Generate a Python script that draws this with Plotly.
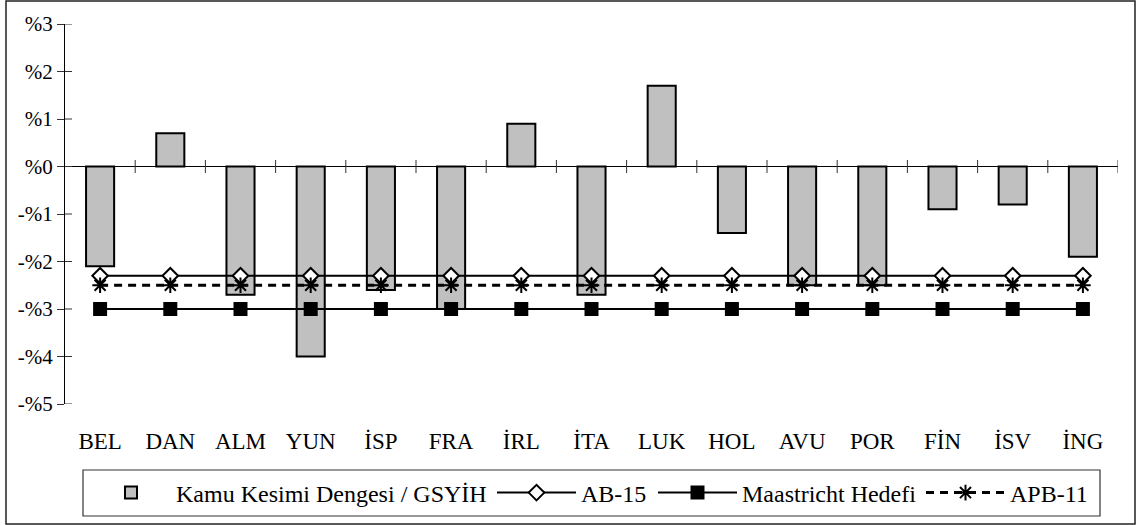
import plotly.graph_objects as go

# ---- data ----
categories = ["BEL", "DAN", "ALM", "YUN", "İSP", "FRA", "İRL", "İTA",
              "LUK", "HOL", "AVU", "POR", "FİN", "İSV", "İNG"]
kamu_dengesi = [-2.1, 0.7, -2.7, -4.0, -2.6, -3.0, 0.9, -2.7,
                1.7, -1.4, -2.5, -2.5, -0.9, -0.8, -1.9]
ab15 = [-2.3, -2.3, -2.3, -2.3, -2.3, -2.3, -2.3, -2.3,
        -2.3, -2.3, -2.3, -2.3, -2.3, -2.3, -2.3]
maastricht = [-3.0, -3.0, -3.0, -3.0, -3.0, -3.0, -3.0, -3.0,
              -3.0, -3.0, -3.0, -3.0, -3.0, -3.0, -3.0]
apb11 = [-2.5, -2.5, -2.5, -2.5, -2.5, -2.5, -2.5, -2.5,
         -2.5, -2.5, -2.5, -2.5, -2.5, -2.5, -2.5]
y_tickvals = [3, 2, 1, 0, -1, -2, -3, -4, -5]
y_ticktext = ["%3", "%2", "%1", "%0", "-%1", "-%2", "-%3", "-%4", "-%5"]

# ---- layout constants (pixels) ----
W, H = 1137, 525
ML, MR, MT, MB = 65, 19, 24, 121
PW = W - ML - MR
PH = H - MT - MB
FONT = "Liberation Serif, Times New Roman, serif"
FS_Y = 21
FS_X = 23
FS_LEG = 24


def px_x(px):
    return (px - ML) / PW


def px_y(py):
    return (H - MB - py) / PH


fig = go.Figure()
fig.add_trace(go.Bar(
    x=categories, y=kamu_dengesi, name="Kamu Kesimi Dengesi / GSYİH",
    width=0.4, marker=dict(color="#C0C0C0", line=dict(color="black", width=2)),
    legend="legend",
))
fig.add_trace(go.Scatter(
    x=categories, y=ab15, name="AB-15", mode="lines+markers",
    line=dict(color="black", width=2),
    marker=dict(symbol="diamond", size=12, color="white",
                line=dict(color="black", width=2)),
    legend="legend2",
))
fig.add_trace(go.Scatter(
    x=categories, y=maastricht, name="Maastricht Hedefi", mode="lines+markers",
    line=dict(color="black", width=2),
    marker=dict(symbol="square", size=14, color="black",
                line=dict(color="black", width=0)),
    legend="legend3",
))
fig.add_trace(go.Scatter(
    x=categories, y=apb11, name="APB-11", mode="lines+markers",
    line=dict(color="black", width=3, dash="8px,6px"),
    marker=dict(symbol="asterisk-open", size=13, color="black",
                line=dict(color="black", width=2)),
    legend="legend4",
))

shapes = []
n = len(categories)
tick_half = 6.5 / PH * 8
for i in range(n):
    b = i + 0.5
    shapes.append(dict(type="line", xref="x", yref="y", x0=b, x1=b,
                       y0=-tick_half, y1=tick_half,
                       line=dict(color="#333", width=1)))
for v in y_tickvals:
    shapes.append(dict(type="line", xref="paper", yref="y", x0=0, x1=px_x(ML + 7),
                       y0=v, y1=v, line=dict(color="#333", width=1)))
# outer border
shapes.append(dict(type="rect", xref="paper", yref="paper",
                   x0=px_x(6), x1=px_x(1135), y0=px_y(524), y1=px_y(1),
                   line=dict(color="#222", width=1.5), layer="below"))
# legend frame
shapes.append(dict(type="rect", xref="paper", yref="paper",
                   x0=px_x(83), x1=px_x(1100), y0=px_y(516), y1=px_y(470),
                   line=dict(color="#333", width=1.2), layer="below"))

BAR_IW = 80
LINE_IW = 79
legend_text_starts = [177, 582, 743, 1011]


def leg(text_x, iw):
    return dict(orientation="h", x=px_x(text_x - iw - 11), xanchor="left",
                y=px_y(493), yanchor="middle", borderwidth=0,
                bgcolor="rgba(0,0,0,0)", itemwidth=iw,
                font=dict(family=FONT, size=FS_LEG, color="black"))


fig.update_layout(
    width=W, height=H,
    margin=dict(l=ML, r=MR, t=MT, b=MB, autoexpand=False),
    plot_bgcolor="white", paper_bgcolor="white",
    font=dict(family=FONT, size=FS_Y, color="black"),
    showlegend=True,
    barmode="overlay",
    legend=leg(legend_text_starts[0], BAR_IW),
    legend2=leg(legend_text_starts[1], LINE_IW),
    legend3=leg(legend_text_starts[2], LINE_IW),
    legend4=leg(legend_text_starts[3], LINE_IW),
    shapes=shapes,
)
fig.update_xaxes(
    type="category", range=[-0.5, n - 0.5], showgrid=False, showline=False,
    ticks="", ticklabelstandoff=21, zeroline=False,
    tickfont=dict(family=FONT, size=FS_X, color="black"),
)
fig.update_yaxes(
    range=[-5, 3], tickvals=y_tickvals, ticktext=y_ticktext,
    showgrid=False, showline=True, linecolor="black", linewidth=1,
    ticks="outside", ticklen=7, tickcolor="#333",
    zeroline=True, zerolinecolor="black", zerolinewidth=1,
    tickfont=dict(family=FONT, size=FS_Y, color="black"),
)

fig.write_html("out.html")
